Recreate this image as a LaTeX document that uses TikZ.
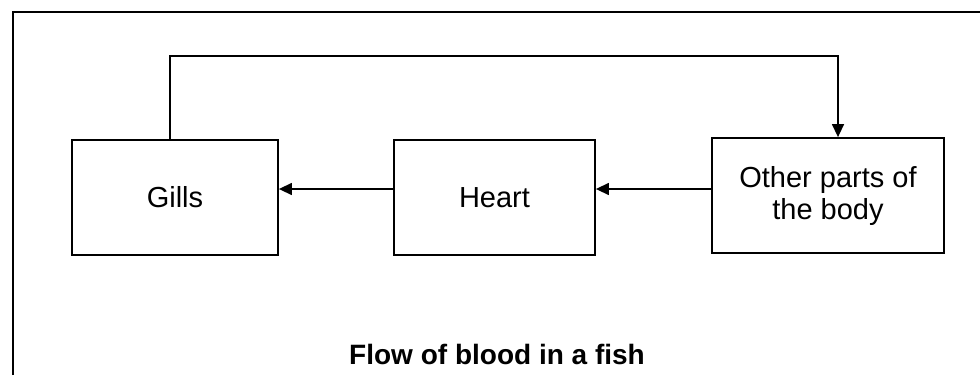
\documentclass[tikz,border=0pt]{standalone}
\usepackage{fontspec}
\setmainfont{Liberation Sans}
\usetikzlibrary{arrows.meta}
\tikzset{
  box/.style={draw, line width=1.8pt, inner sep=0pt, align=center, font=\fontsize{29}{32}\selectfont},
  flow/.style={line width=1.4pt, -{Triangle[length=13pt,width=12pt]}},
  frame/.style={line width=1.8pt}
}
\begin{document}
\begin{tikzpicture}[x=1pt,y=-1pt]
\useasboundingbox (0,0) rectangle (980,375);
\coordinate (fbl) at (13,375);
\coordinate (ftl) at (13,12);
\coordinate (ftr) at (980,12);
\draw[frame] (fbl) -- (ftl) -- (ftr);
\node[box, minimum width=206pt, minimum height=115pt] (gills) at (175,197.5) {Gills};
\node[box, minimum width=201pt, minimum height=115pt] (heart) at (494.5,197.5) {Heart};
\node[box, minimum width=232pt, minimum height=115pt] (other) at (828,195.5) {\raisebox{-3pt}{\parbox{232pt}{\centering Other parts of\\the body}}};
\node[font=\bfseries\fontsize{28}{30}\selectfont] (title) at (497,354) {Flow of blood in a fish};
\draw[flow] ([yshift=8.5pt]heart.west) -- ([yshift=8.5pt]gills.east);
\draw[flow] ([yshift=6.5pt]other.west) -- ([yshift=8.5pt]heart.east);
\draw[flow] ([xshift=-5pt]gills.north) -- ++(0,-83) -| ([xshift=10pt]other.north);
\end{tikzpicture}
\end{document}
